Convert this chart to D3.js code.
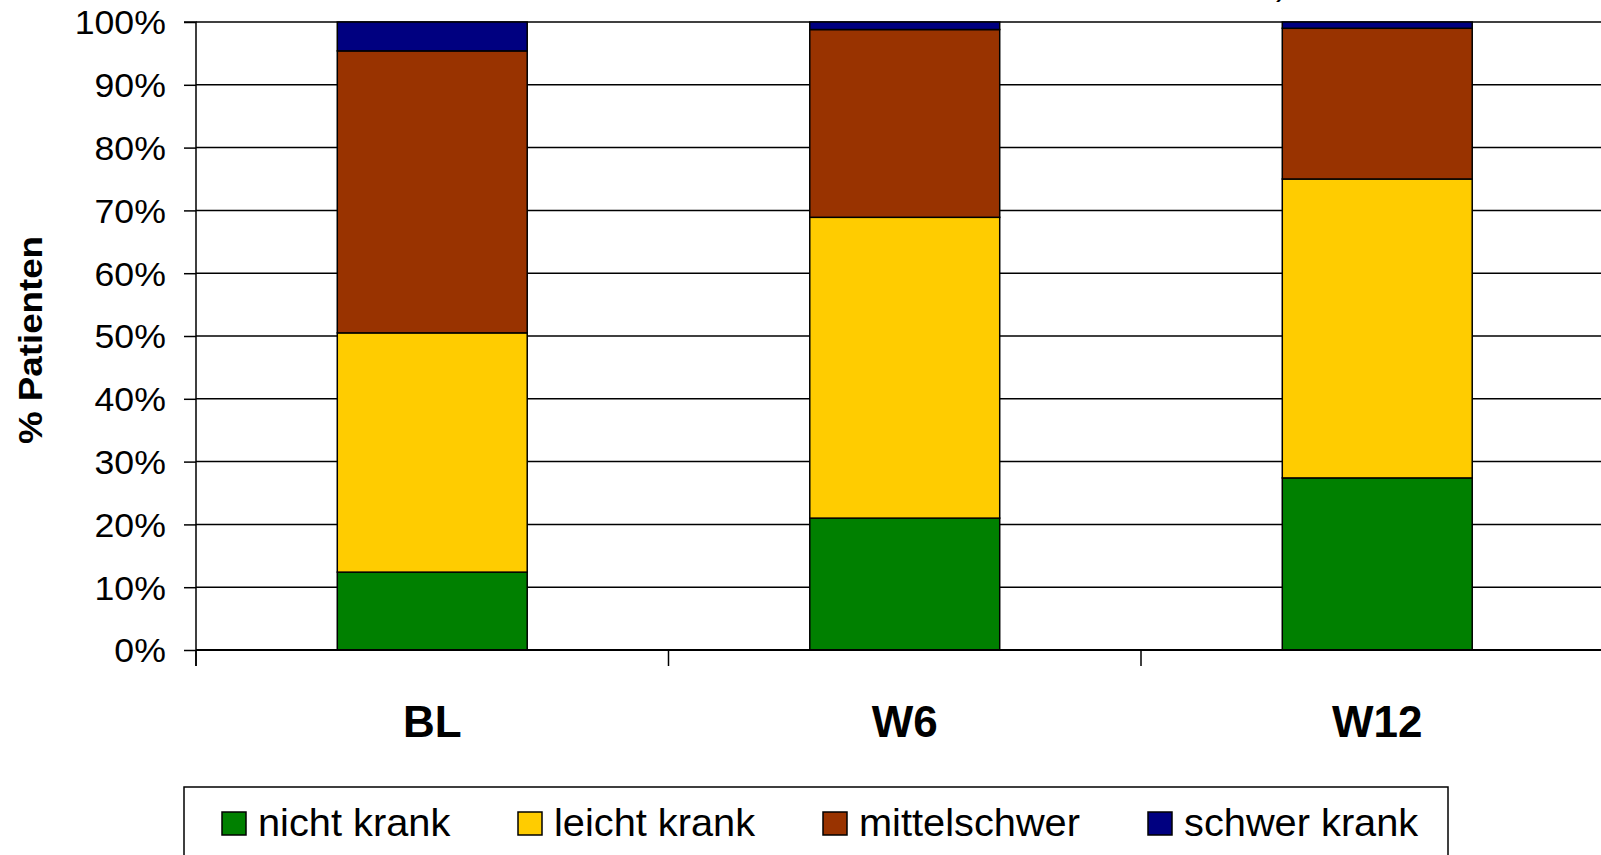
<!DOCTYPE html>
<html><head><meta charset="utf-8">
<script src="https://cdn.jsdelivr.net/npm/d3@7"></script>
<style>html,body{margin:0;padding:0;background:#fff;overflow:hidden}svg{display:block}</style>
</head><body>
<script>
const categories = ["BL", "W6", "W12"];
const seriesNames = ["nicht krank", "leicht krank", "mittelschwer", "schwer krank"];
const nichtKrank   = [12.4, 21.0, 27.4];
const leichtKrank  = [38.1, 47.9, 47.6];
const mittelschwer = [44.9, 29.9, 24.0];
const schwerKrank  = [4.6, 1.2, 1.0];
const colors = ["#008000", "#FFCC00", "#993300", "#000080"];
const yTicks = [0, 10, 20, 30, 40, 50, 60, 70, 80, 90, 100];
const yTitle = "% Patienten";

const W = 1601, H = 855;
const svg = d3.select("body").append("svg").attr("width", W).attr("height", H);
const font = "'Liberation Sans', Arial, sans-serif";

const x0 = 196, step = 472.5;
const x = d3.scaleBand().domain(categories).range([x0, x0 + step * categories.length])
  .paddingInner(0.598).paddingOuter(0.299);
const xi = d3.scaleLinear().domain([0, categories.length]).range([x0, x0 + step * categories.length]);
const y = d3.scaleLinear().domain([0, 100]).range([650, 22]);

const rows = categories.map((c, i) => ({cat: c, s0: nichtKrank[i], s1: leichtKrank[i], s2: mittelschwer[i], s3: schwerKrank[i]}));
const stack = d3.stack().keys(["s0", "s1", "s2", "s3"])(rows);

// gridlines
svg.append("g").selectAll("line").data(yTicks.filter(t => t > 0)).join("line")
  .attr("x1", x0).attr("x2", W).attr("y1", d => y(d)).attr("y2", d => y(d))
  .attr("stroke", "#000").attr("stroke-width", 1.5);

// partial cut-off title glyph at top (title lies above the visible area)
svg.append("text").attr("x", 1276).attr("y", -5).attr("font-family", font).attr("font-size", 34).text(")");

// bars
svg.append("g").selectAll("g").data(stack).join("g")
  .attr("fill", (d, i) => colors[i])
  .selectAll("rect").data(d => d).join("rect")
  .attr("x", d => x(d.data.cat)).attr("width", x.bandwidth())
  .attr("y", d => y(d[1])).attr("height", d => y(d[0]) - y(d[1]))
  .attr("stroke", "#000").attr("stroke-width", 1.5);

// y axis
const yAxis = d3.axisLeft(y).tickValues(yTicks).tickFormat(d => d + "%").tickSize(12).tickPadding(14);
const gy = svg.append("g").attr("transform", `translate(${x0},0)`).call(yAxis);
gy.select(".domain").attr("stroke", "#000").attr("stroke-width", 1.5).attr("d", `M-12,${y(100)}H0V666`);
gy.selectAll(".tick line").attr("stroke", "#000").attr("stroke-width", 1.5);
gy.selectAll(".tick text").attr("font-family", font).attr("font-size", 33).attr("fill", "#000")
  .attr("dy", "0.36em")
  .attr("transform", function() { const xx = +d3.select(this).attr("x"); return `translate(${xx*0.08},0) scale(1.08,1)`; });

// x axis line and category ticks
svg.append("line").attr("x1", x0).attr("x2", W).attr("y1", y(0)).attr("y2", y(0))
  .attr("stroke", "#000").attr("stroke-width", 2);
svg.append("g").selectAll("line").data(d3.range(categories.length + 1)).join("line")
  .attr("x1", d => xi(d)).attr("x2", d => xi(d)).attr("y1", y(0)).attr("y2", 666)
  .attr("stroke", "#000").attr("stroke-width", 1.5);

// category labels
svg.append("g").selectAll("text").data(categories).join("text")
  .attr("x", d => x(d) + x.bandwidth() / 2).attr("y", 737)
  .attr("text-anchor", "middle").attr("font-family", font).attr("font-weight", "bold")
  .attr("font-size", 44).text(d => d);

// y title
svg.append("text").attr("transform", "translate(42,340) rotate(-90) scale(1.08,1)")
  .attr("text-anchor", "middle").attr("font-family", font).attr("font-weight", "bold")
  .attr("font-size", 34).text(yTitle);

// legend
const lg = svg.append("g");
lg.append("rect").attr("x", 184).attr("y", 787).attr("width", 1264).attr("height", 100)
  .attr("fill", "#fff").attr("stroke", "#000").attr("stroke-width", 1.5);
const legendX = [222, 518, 823, 1148];
const items = lg.selectAll("g.item").data(seriesNames).join("g").attr("class", "item")
  .attr("transform", (d, i) => `translate(${legendX[i]},0)`);
items.append("rect").attr("x", 0).attr("y", 812).attr("width", 24).attr("height", 23)
  .attr("fill", (d, i) => colors[i]).attr("stroke", "#000").attr("stroke-width", 1.5);
items.append("text").attr("transform", "translate(36,836) scale(1.02,1)")
  .attr("font-family", font).attr("font-size", 39).text(d => d);
</script>
</body></html>
